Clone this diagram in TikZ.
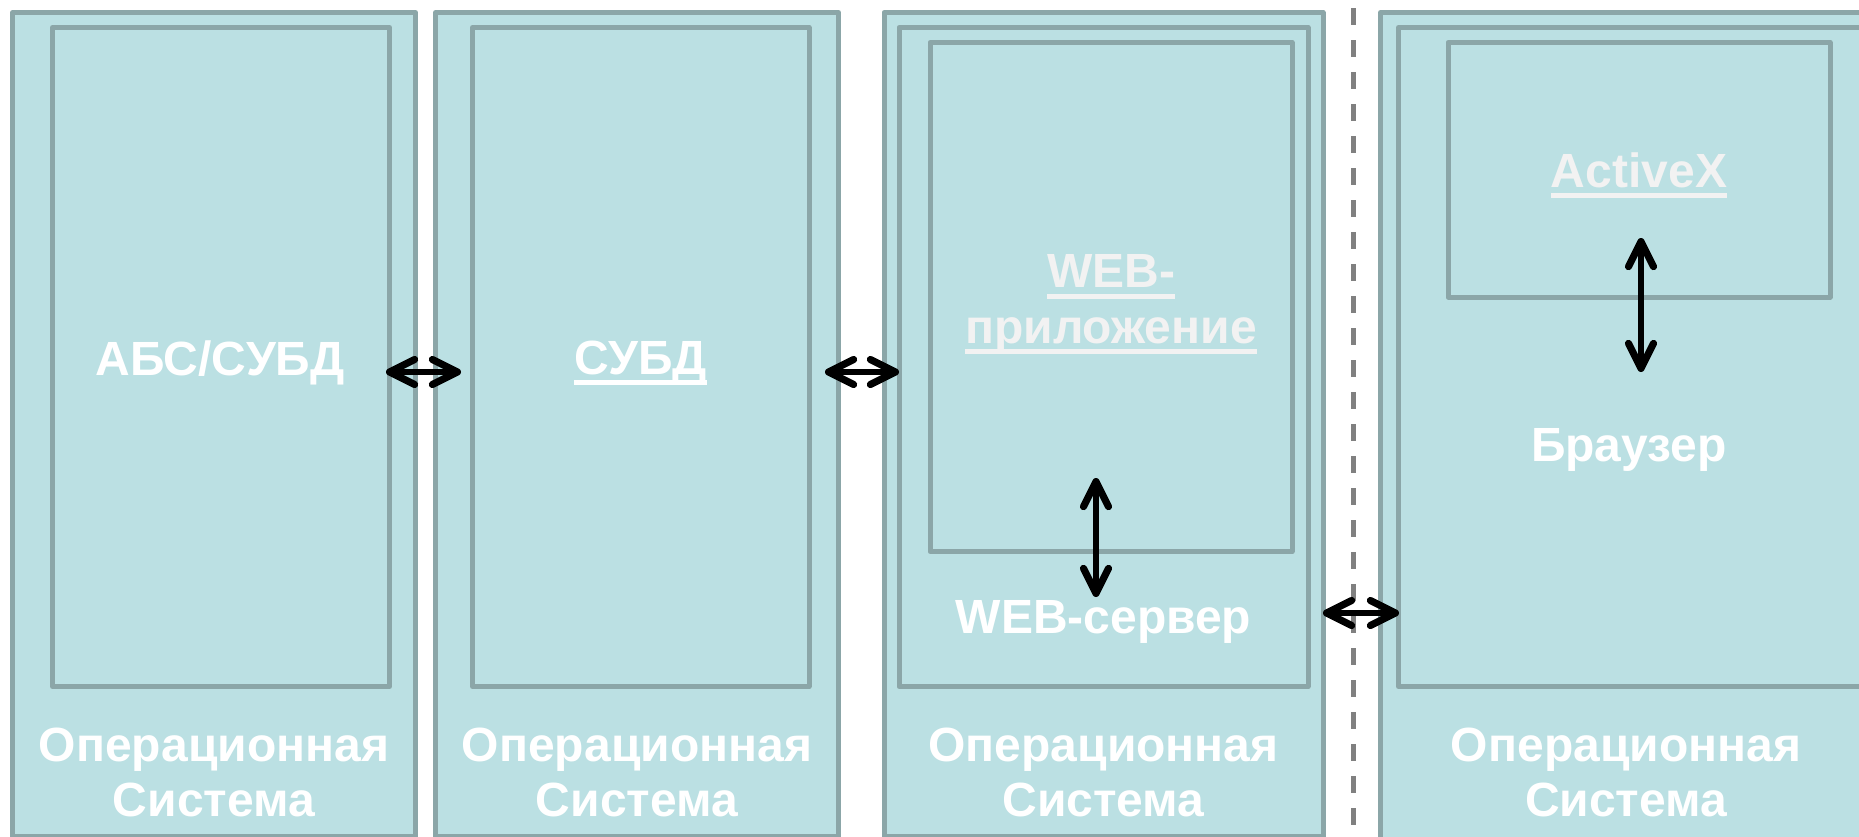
\documentclass[tikz,border=0pt]{standalone}
\usepackage{fontspec}
\setmainfont{Liberation Sans}
\usetikzlibrary{arrows.meta,fit}

\definecolor{panelfill}{HTML}{BBE0E3}
\definecolor{paneledge}{HTML}{8BA6A8}
\definecolor{sepgrey}{HTML}{808080}
\definecolor{softwhite}{HTML}{F2F2F2}

% underline drawn as a fixed rule just below the baseline
\newcommand\ulword[1]{\setbox0=\hbox{#1}\rlap{\rule[-5.5pt]{\wd0}{2.5pt}}\box0}

\tikzset{barb/.tip={Straight Barb[length=12.5pt,width=12.5pt,round,line width=3.6pt]}}

\begin{document}
\begin{tikzpicture}[x=0.5pt,y=-0.5pt,
  panel/.style={draw=paneledge, fill=panelfill, line width=2.5pt,
    line join=round, inner sep=0pt, outer sep=0pt},
  txt/.style={text=white, font=\bfseries\fontsize{24}{27.75}\selectfont,
    align=center, anchor=base, inner sep=0pt, outer sep=0pt},
  faint/.style={txt, text=softwhite},
  dbl/.style={draw=black, line width=2.6pt, line cap=round, barb-barb}]

\useasboundingbox (0,0) rectangle (1859,836);
\clip (0,0) rectangle (1859,836);

% machine 1: bank system
\node[panel, fit={(12.5,12.5) (415.5,836)}] (o1) {};
\node[panel, fit={(52.5,27.5) (389.5,686.5)}] (i1) {};
% machine 2: database server
\node[panel, fit={(435.5,12.5) (838.5,836)}] (o2) {};
\node[panel, fit={(472.5,27.5) (809,686.5)}] (i2) {};
% machine 3: web server with application
\node[panel, fit={(884,12.5) (1323,836)}] (o3) {};
\node[panel, fit={(899,27.5) (1308,686.5)}] (m3) {};
\node[panel, fit={(930,42.5) (1292,551.5)}] (n3) {};
% machine 4: client with browser
\node[panel, fit={(1380.5,12.5) (1880,860)}] (o4) {};
\node[panel, fit={(1398.5,27.5) (1880,686.5)}] (m4) {};
\node[panel, fit={(1448,42.5) (1830,297)}] (ax) {};

% network boundary
\coordinate (sepT) at (1353.5,8);
\coordinate (sepB) at (1353.5,860);
\draw[sepgrey, line width=2.5pt, dash pattern=on 8.5pt off 7.5pt] (sepT) -- (sepB);

% labels (multi-line labels are placed by the baseline of their last line)
\node[txt] (tabs) at (220,375) {АБС/СУБД};
\node[txt] (tsubd) at (640.7,374) {\ulword{СУБД}};
\node[faint] (tweb) at (1111,343.3) {\ulword{WEB-}\\\ulword{приложение}};
\node[txt] (tsrv) at (1103.5,633) {WEB-сервер};
\node[faint] (tax) at (1639,187.3) {\ulword{ActiveX}};
\node[txt] (tbr) at (1629,461.7) {Браузер};
\node[txt] (os1) at (214,816.7) {Операционная\\Система};
\node[txt] (os2) at (637,816.7) {Операционная\\Система};
\node[txt] (os3) at (1103.5,816.7) {Операционная\\Система};
\node[txt] (os4) at (1626,816.7) {Операционная\\Система};

% interaction arrows
\coordinate (a1l) at (386,372);   \coordinate (a1r) at (461,372);
\coordinate (a2l) at (825,372);   \coordinate (a2r) at (899,372);
\coordinate (a3t) at (1096,478);  \coordinate (a3b) at (1096,597);
\coordinate (a4l) at (1323,613);  \coordinate (a4r) at (1399,613);
\coordinate (a5t) at (1641,238);  \coordinate (a5b) at (1641,372);
\draw[dbl] (a1l) -- (a1r);
\draw[dbl] (a2l) -- (a2r);
\draw[dbl] (a3t) -- (a3b);
\draw[dbl] (a4l) -- (a4r);
\draw[dbl] (a5t) -- (a5b);
\end{tikzpicture}
\end{document}
